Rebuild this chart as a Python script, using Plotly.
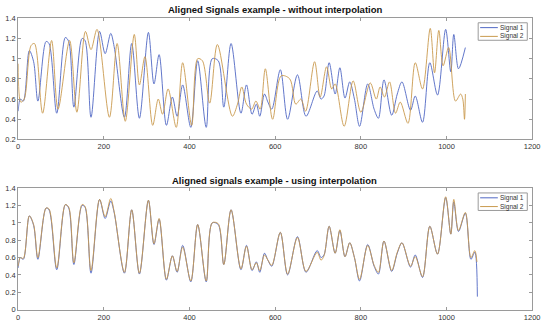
import plotly.graph_objects as go

# ---- data ----
sig1_x = [0, 5, 12, 26, 36, 46, 65, 72, 90, 110, 118, 130, 149, 156, 170, 190, 203, 216, 224,
          248, 265, 283, 304, 317, 329, 346, 360, 371, 384, 403, 419, 439, 453, 467, 480, 497,
          520, 533, 546, 556, 564, 575, 583, 592, 612, 629, 652, 672, 698, 707, 714, 726, 740,
          751, 763, 774, 785, 797, 816, 831, 841, 854, 872, 885, 896, 916, 927, 944, 961, 979,
          998, 1010, 1017, 1028, 1044]
sig1_y = [0.48, 0.60, 0.58, 1.08, 0.97, 0.58, 1.17, 1.15, 0.46, 1.21, 1.17, 0.52, 1.20, 1.18,
          0.42, 1.27, 1.05, 1.25, 1.12, 0.42, 1.15, 0.41, 1.26, 0.75, 1.04, 0.34, 0.62, 0.43,
          0.74, 0.32, 0.98, 0.32, 1.00, 0.98, 0.52, 1.15, 0.46, 0.74, 0.45, 0.55, 0.43, 0.65,
          0.57, 0.50, 0.89, 0.40, 0.84, 0.43, 0.68, 0.60, 0.63, 0.96, 0.65, 0.91, 0.61, 0.77,
          0.60, 0.33, 0.75, 0.50, 0.41, 0.79, 0.44, 0.65, 0.77, 0.49, 0.63, 0.37, 0.96, 0.64,
          1.29, 0.87, 1.24, 0.90, 1.11]

sig2_x = [0, 6, 14, 30, 38, 57, 78, 93, 120, 137, 157, 170, 184, 213, 231, 250, 271, 283, 296,
          314, 327, 337, 350, 369, 384, 405, 419, 430, 447, 465, 500, 512, 522, 533, 545, 555,
          565, 577, 594, 614, 634, 648, 660, 671, 692, 705, 720, 732, 740, 761, 782, 800, 822,
          836, 845, 855, 867, 881, 892, 910, 927, 944, 962, 972, 982, 992, 1005, 1021, 1033,
          1038, 1042, 1044]
sig2_y = [0.95, 0.57, 0.60, 1.13, 1.15, 0.46, 1.18, 0.50, 1.18, 0.47, 1.27, 1.09, 1.29, 0.42,
          1.15, 0.38, 1.24, 0.74, 1.02, 0.34, 0.60, 0.45, 0.70, 0.32, 0.96, 0.34, 1.00, 0.98,
          0.56, 1.14, 0.43, 0.55, 0.72, 0.55, 0.50, 0.58, 0.50, 0.90, 0.40, 0.83, 0.80, 0.55,
          0.60, 0.48, 0.97, 0.62, 0.92, 0.70, 0.75, 0.33, 0.78, 0.47, 0.76, 0.60, 0.72, 0.62,
          0.77, 0.46, 0.57, 0.36, 0.96, 0.70, 1.30, 0.86, 1.28, 0.93, 1.11, 0.58, 0.65, 0.60,
          0.40, 0.65]

interp1_x = sig1_x + [1057, 1066, 1072]
interp1_y = sig1_y + [0.58, 0.66, 0.15]
interp2_x = sig1_x + [1057, 1066, 1071]
interp2_y = [0.50, 0.60, 0.59, 1.08, 0.98, 0.60, 1.17, 1.16, 0.48, 1.21, 1.18, 0.54, 1.21, 1.19,
             0.45, 1.27, 1.07, 1.28, 1.13, 0.43, 1.15, 0.42, 1.26, 0.76, 1.05, 0.35, 0.62, 0.44,
             0.72, 0.33, 0.98, 0.33, 1.00, 0.99, 0.52, 1.15, 0.47, 0.73, 0.46, 0.54, 0.45, 0.63,
             0.57, 0.51, 0.89, 0.41, 0.83, 0.44, 0.66, 0.57, 0.62, 0.96, 0.65, 0.92, 0.61, 0.77,
             0.60, 0.35, 0.74, 0.51, 0.43, 0.79, 0.45, 0.66, 0.77, 0.50, 0.61, 0.38, 0.96, 0.64,
             1.30, 0.87, 1.27, 0.91, 1.12, 0.60, 0.68, 0.55]

x_ticks = [0, 200, 400, 600, 800, 1000, 1200]
y_ticks_top = [0.2, 0.4, 0.6, 0.8, 1.0, 1.2, 1.4]
y_ticks_bot = [0, 0.2, 0.4, 0.6, 0.8, 1.0, 1.2, 1.4]
titles = ["Aligned Signals example - without interpolation",
          "Aligned signals example - using interpolation"]
names = ["Signal 1", "Signal 2"]

BLUE = "#5068c4"
ORANGE = "#c99a4e"
FRAME = "#9a9a9a"
FONT = "Liberation Sans, Arial, sans-serif"

fig = go.Figure()
line_kw = dict(shape="spline", smoothing=0.9, width=0.9)
fig.add_trace(go.Scatter(x=sig1_x, y=sig1_y, name=names[0], mode="lines",
                         line=dict(color=BLUE, **line_kw), xaxis="x", yaxis="y"))
fig.add_trace(go.Scatter(x=sig2_x, y=sig2_y, name=names[1], mode="lines",
                         line=dict(color=ORANGE, **line_kw), xaxis="x", yaxis="y"))
fig.add_trace(go.Scatter(x=interp1_x, y=interp1_y, name=names[0], mode="lines",
                         line=dict(color=BLUE, **line_kw), xaxis="x2", yaxis="y2"))
fig.add_trace(go.Scatter(x=interp2_x, y=interp2_y, name=names[1], mode="lines",
                         line=dict(color=ORANGE, **line_kw), xaxis="x2", yaxis="y2"))

W, H = 550, 327
xdom = [16.5 / W, 540 / W]
ydom_top = [1 - 139.3 / H, 1 - 14.7 / H]
ydom_bot = [1 - 314.3 / H, 1 - 189.3 / H]

axis_common = dict(showline=True, linecolor=FRAME, linewidth=1, mirror="ticks",
                   ticks="inside", ticklen=3, tickcolor=FRAME, showgrid=False,
                   zeroline=False, tickfont=dict(size=7.5, color="#333333", family=FONT))

fig.update_layout(
    width=W, height=H, margin=dict(l=0, r=0, t=0, b=0),
    paper_bgcolor="white", plot_bgcolor="white",
    font=dict(family=FONT),
    showlegend=False,
    xaxis=dict(domain=xdom, range=[0, 1200], tickvals=x_ticks, anchor="y", **axis_common),
    yaxis=dict(domain=ydom_top, range=[0.2, 1.4], tickvals=y_ticks_top, anchor="x",
               ticktext=["0.2", "0.4", "0.6", "0.8", "1", "1.2", "1.4"], **axis_common),
    xaxis2=dict(domain=xdom, range=[0, 1200], tickvals=x_ticks, anchor="y2", **axis_common),
    yaxis2=dict(domain=ydom_bot, range=[0, 1.4], tickvals=y_ticks_bot, anchor="x2",
                ticktext=["0", "0.2", "0.4", "0.6", "0.8", "1", "1.2", "1.4"], **axis_common),
)

# titles
for title, ypx in zip(titles, [6, 181.5]):
    fig.add_annotation(text="<b>" + title + "</b>", x=278 / W, y=1 - ypx / H, xref="paper",
                       yref="paper", showarrow=False, font=dict(size=9.5, color="#111111"),
                       xanchor="center", yanchor="middle")

# compact MATLAB-style legend boxes (box + line samples + labels)
colors = [BLUE, ORANGE]
for top_px in [19.3, 194.3]:
    fig.add_shape(type="rect", xref="paper", yref="paper",
                  x0=485 / W, x1=535 / W, y0=1 - (top_px + 18) / H, y1=1 - top_px / H,
                  line=dict(color=FRAME, width=1), fillcolor="white", layer="above")
    for i, (nm, col) in enumerate(zip(names, colors)):
        yy = top_px + 5 + 9 * i
        fig.add_shape(type="line", xref="paper", yref="paper",
                      x0=487 / W, x1=505 / W, y0=1 - yy / H, y1=1 - yy / H,
                      line=dict(color=col, width=1), layer="above")
        fig.add_annotation(text=nm, x=533.5 / W, y=1 - yy / H, xref="paper", yref="paper",
                           showarrow=False, xanchor="right", yanchor="middle",
                           font=dict(size=6.5, color="#333333"))

fig.write_html("out.html", config={"displayModeBar": False},
               post_script="document.body.style.margin='0px';")
